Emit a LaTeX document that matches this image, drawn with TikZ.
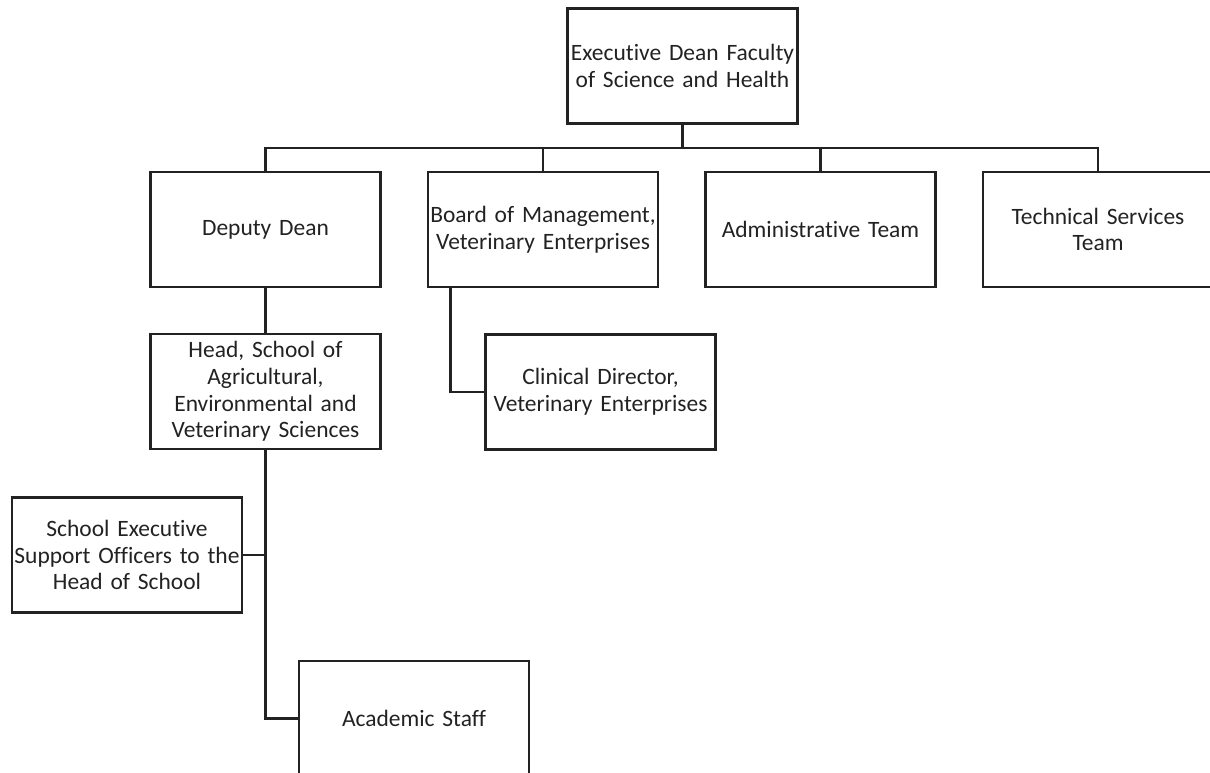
\documentclass[tikz,border=0pt]{standalone}
\usepackage{fontspec}
\setmainfont[Ligatures=NoCommon]{Carlito}
\usepackage{xcolor}
\usepackage{tikz}
\usetikzlibrary{calc}
\definecolor{ink}{HTML}{222222}
\tikzset{
  box/.style={draw=ink, line width=2pt, text=ink, inner sep=0pt, align=center,
    text width=172.5pt, minimum height=86.25pt,
    font=\fontsize{17.6}{20}\selectfont},
  wire/.style={draw=ink, line width=2pt, line cap=rect},
}

\begin{document}
\begin{tikzpicture}[x=0.75pt, y=-0.75pt]
  \useasboundingbox (0,0) rectangle (1210,772);
  \coordinate (bus) at (0,148);
  \node[box] (dean) at (682.5,66) {Executive Dean Faculty\\of Science and Health};
  \node[box] (deputy) at (265.5,229.5) {Deputy Dean};
  \node[box] (board) at (543,229.5) {Board of Management,\\Veterinary Enterprises};
  \node[box] (admin) at (820.5,229.5) {Administrative Team};
  \node[box] (tech) at (1098,229.5) {Technical Services\\Team};
  \node[box] (head) at (265.5,391.5) {Head, School of\\Agricultural,\\Environmental and\\Veterinary Sciences};
  \node[box] (clinical) at (600.5,392) {Clinical Director,\\Veterinary Enterprises};
  \node[box] (seo) at (127,555) {School Executive\\Support Officers to the\\Head of School};
  \node[box] (academic) at (414,718.5) {Academic Staff};
  % faculty bus
  \draw[wire] (dean.south) -- (dean.south |- bus);
  \draw[wire] (deputy.north |- bus) -- (tech.north |- bus);
  \foreach \n in {deputy,board,admin,tech}
    \draw[wire] (\n.north) -- (\n.north |- bus);
  \draw[wire] (deputy) -- (head);
  \draw[wire] ($(board.south west)+(24,0)$) |- (clinical.west);
  \draw[wire] (head.south) |- (seo.east);
  \draw[wire] (head.south) |- (academic.west);
\end{tikzpicture}
\end{document}
